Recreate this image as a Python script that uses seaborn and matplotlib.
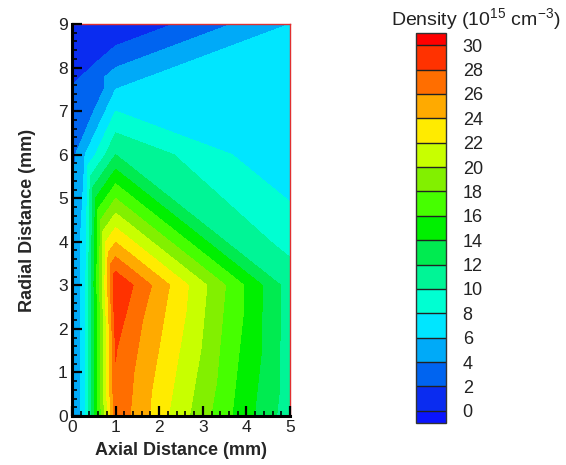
import numpy as np
import matplotlib
matplotlib.use("Agg")
import matplotlib.pyplot as plt
import matplotlib.tri as mtri
from matplotlib.ticker import MultipleLocator
import seaborn as sns

# ---- data: mesh nodes (mm) and density values (1e15 cm^-3) ----
node_x = [0, 1, 5, 0.5, 0, 0.6, 1, 0, 0.3, 1, 3.67, 5,
          0, 0.3, 1, 2.33, 3.67, 5, 1, 0, 0.3, 1, 2.33, 3.67, 5]
node_y = [9, 9, 9, 8.07, 7.5, 7.5, 7.5, 6, 6, 6, 6, 6,
          3, 3, 3, 3, 3, 3, 1.5, 0, 0, 0, 0, 0, 0]
node_v = [0.5, 0.0, 6.0, 2.0, 2.1, 3.0, 6.0, 3.3, 6.0, 12.0, 8.0, 6.3,
          3.0, 7.5, 29.9, 23.6, 17.3, 11.0, 28.1, 3.0, 7.5, 27.5, 21.5, 16.0, 10.8]
mesh = [(0, 1, 3), (0, 3, 4), (1, 6, 3), (3, 6, 5), (3, 5, 4),
        (5, 6, 8), (6, 9, 8), (4, 5, 7), (5, 8, 7),
        (1, 2, 6), (6, 2, 10), (10, 2, 11), (6, 10, 9),
        (9, 17, 10), (10, 17, 11),
        (9, 14, 15), (9, 15, 16), (9, 16, 17),
        (7, 8, 13), (7, 13, 12), (8, 9, 14), (8, 14, 13),
        (12, 13, 20), (12, 20, 19), (13, 14, 18), (13, 18, 20), (20, 18, 21),
        (14, 18, 15), (18, 22, 15), (18, 21, 22), (15, 22, 23), (15, 23, 16),
        (16, 23, 24), (16, 24, 17)]

levels = [-1, 0, 2, 4, 6, 8, 10, 12, 14, 16, 18, 20, 22, 24, 26, 28, 30, 31]
cbar_ticks = list(range(0, 31, 2))
band_colors = ["#0a14ff", "#0a2cf0", "#0064f0", "#00aaf8", "#00e6ff", "#00ffd2",
               "#00f596", "#00eb50", "#00f000", "#46ff00", "#82f000", "#c8ff00",
               "#ffeb00", "#ffaa00", "#ff6e00", "#ff3200", "#ff0000"]
x_ticks = [0, 1, 2, 3, 4, 5]
y_ticks = [0, 1, 2, 3, 4, 5, 6, 7, 8, 9]

sns.set_style("ticks")
plt.rcParams["font.family"] = ["Liberation Sans", "DejaVu Sans"]
plt.rcParams["mathtext.default"] = "regular"

fig = plt.figure(figsize=(5.66, 4.65), dpi=100)
ax = fig.add_axes([72 / 566, 1 - 416 / 465, 218 / 566, 392 / 465])
ax.set_axisbelow(False)

tri = mtri.Triangulation(node_x, node_y, triangles=mesh)
cs = ax.tricontourf(tri, node_v, levels=levels, colors=band_colors)

ax.set_xlim(0, 5)
ax.set_ylim(0, 9)
ax.set_xticks(x_ticks)
ax.set_yticks(y_ticks)
ax.xaxis.set_minor_locator(MultipleLocator(0.2))
ax.yaxis.set_minor_locator(MultipleLocator(0.2))
ax.tick_params(which="both", direction="in", top=False, right=False,
               colors="black", labelsize=12.5, labelcolor="#222222")
ax.tick_params(which="major", length=7, width=1.6, pad=3)
ax.tick_params(which="minor", length=3.5, width=1.2)
for s in ["left", "bottom"]:
    ax.spines[s].set_color("black")
    ax.spines[s].set_linewidth(2.2)
    ax.spines[s].set_zorder(5)
for s in ["top", "right"]:
    ax.spines[s].set_color("#e03030")
    ax.spines[s].set_linewidth(1.0)
ax.set_xlabel("Axial Distance (mm)", fontsize=13, fontweight="bold", labelpad=5)
ax.set_ylabel("Radial Distance (mm)", fontsize=13, fontweight="bold", labelpad=16)

cax = fig.add_axes([416 / 566, 1 - 423 / 465, 30 / 566, 390 / 465])
cb = fig.colorbar(cs, cax=cax, ticks=cbar_ticks, spacing="proportional",
                  drawedges=True)
cb.outline.set_edgecolor("#333333")
cb.outline.set_linewidth(1.0)
cb.dividers.set_color("#222222")
cb.dividers.set_linewidth(1.0)
cax.tick_params(length=0, labelsize=13, pad=12, labelcolor="#222222")
fig.text(476 / 566, 1 - 19 / 465, "Density (10$^{15}$ cm$^{-3}$)",
         ha="center", va="center", fontsize=14, color="#222222")

fig.savefig("out.png", dpi=100)
